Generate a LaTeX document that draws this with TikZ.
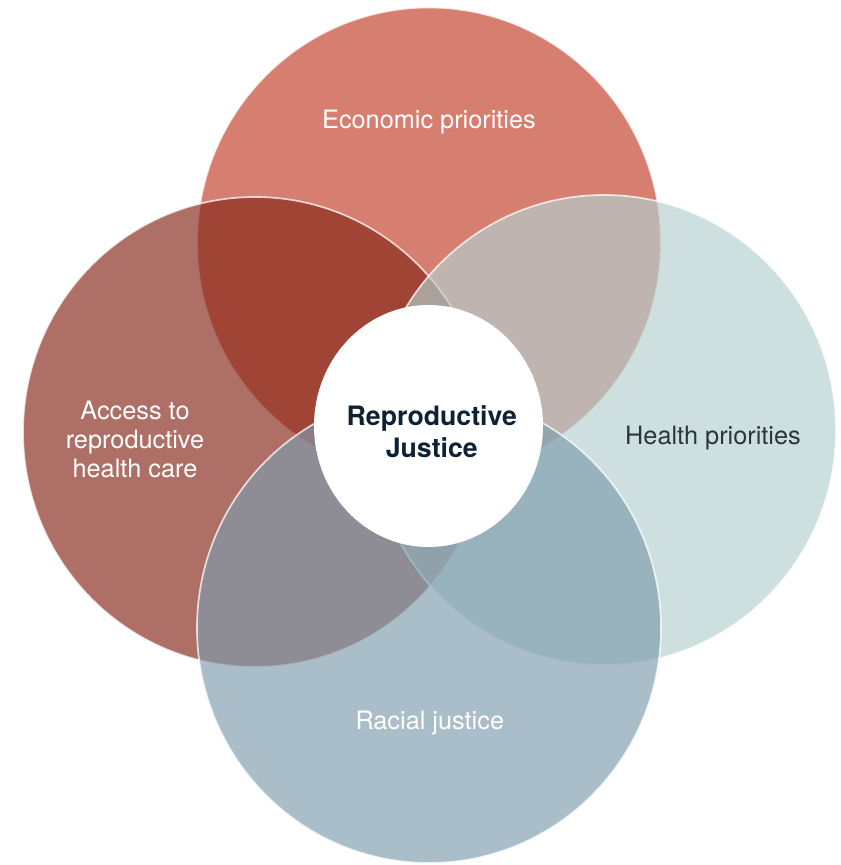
\documentclass[tikz,border=0pt]{standalone}
\usepackage{fontspec}
\setmainfont{TeX Gyre Heros}
\usepackage{tikz}
\definecolor{econcol}{RGB}{193,61,38}
\definecolor{accesscol}{RGB}{132,37,23}
\definecolor{healthcol}{RGB}{179,208,207}
\definecolor{racecol}{RGB}{126,156,173}
\definecolor{healthtext}{RGB}{43,54,56}
\definecolor{centretext}{RGB}{14,34,53}

\begin{document}
\begin{tikzpicture}[
    venn/.style={fill opacity=0.66,draw=white,draw opacity=0.75,line width=1.2pt},
    venntext/.style={font=\fontsize{18}{20.6}\selectfont,align=center,text=white}]
    \useasboundingbox (-10.725,-10.825) rectangle (10.3,10.8);
    \coordinate (K) at (-0.0125,0.15);
    \coordinate (E) at (0,4.7375);
    \coordinate (A) at (-4.35,0);
    \coordinate (H) at (4.375,0.05);
    \coordinate (R) at (0,-4.9);
    % Circles
    \draw[venn,fill=econcol] (E) ellipse (5.8 and 5.875);
    \draw[venn,fill=accesscol] (A) ellipse (5.8 and 5.875);
    \draw[venn,fill=healthcol] (H) ellipse (5.8 and 5.875);
    \draw[venn,fill=racecol] (R) ellipse (5.8 and 5.875);
    % Centre
    \fill[white] (K) ellipse (2.8625 and 3.025);
    % Labels
    \node[venntext,anchor=base] (econlabel) at (0,7.575) {Economic priorities};
    \node[venntext] (accesslabel) at (-7.35,-0.19) {Access to\\reproductive\\health care};
    \node[venntext,anchor=base,text=healthtext] (healthlabel) at (7.1,-0.31) {Health priorities};
    \node[venntext,anchor=base] (racelabel) at (0.02,-7.43) {Racial justice};
    \node[font=\fontsize{19}{22.5}\selectfont\bfseries,align=center,text=centretext] (centrelabel) at (0.07,0) {Reproductive\\Justice};
\end{tikzpicture}
\end{document}
